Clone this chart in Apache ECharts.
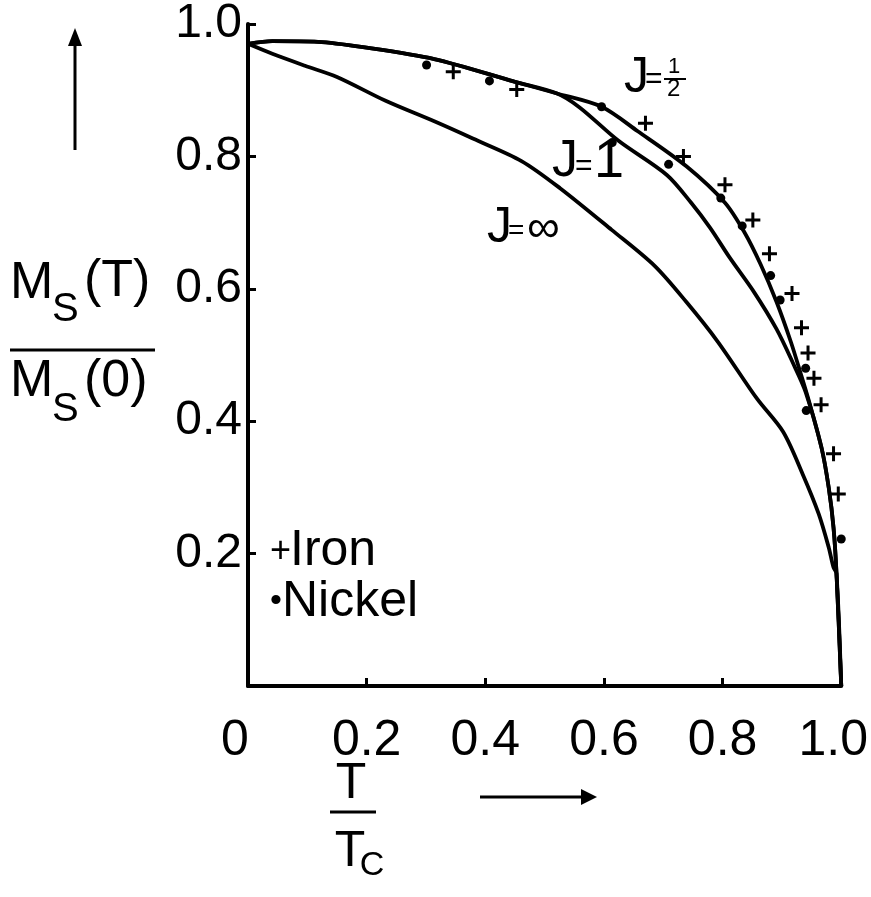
<!DOCTYPE html>
<html><head><meta charset="utf-8">
<script src="https://cdn.jsdelivr.net/npm/echarts@6/dist/echarts.min.js"></script>
<style>html,body{margin:0;padding:0;background:#fff}#c{width:871px;height:897px}</style>
</head><body><div id="c"></div><script>
// ---- data ----
const xTicks = [0, 0.2, 0.4, 0.6, 0.8, 1.0];
const xTickLabels = ['0', '0.2', '0.4', '0.6', '0.8', '1.0'];
const yTicks = [0, 0.2, 0.4, 0.6, 0.8, 1.0];
const yTickLabels = ['', '0.2', '0.4', '0.6', '0.8', '1.0'];

// J = 1/2 curve
const halfT = [0, 0.041, 0.118, 0.194, 0.314, 0.449, 0.521, 0.596, 0.657, 0.739, 0.804, 0.837, 0.864, 0.891, 0.915, 0.931, 0.946, 0.967, 0.979, 0.987, 0.992, 1.0];
const halfM = [0.970, 0.974, 0.973, 0.965, 0.947, 0.913, 0.895, 0.875, 0.838, 0.785, 0.730, 0.685, 0.637, 0.580, 0.520, 0.474, 0.429, 0.359, 0.299, 0.239, 0.170, 0.0];
// J = 1 curve
const oneT = [0, 0.041, 0.118, 0.194, 0.314, 0.449, 0.521, 0.559, 0.624, 0.706, 0.747, 0.779, 0.812, 0.853, 0.891, 0.918, 0.940, 0.967, 0.979, 0.987, 0.992, 1.0];
const oneM = [0.970, 0.974, 0.973, 0.965, 0.947, 0.913, 0.895, 0.874, 0.824, 0.772, 0.730, 0.692, 0.647, 0.595, 0.539, 0.489, 0.444, 0.359, 0.299, 0.239, 0.170, 0.0];
// J = infinity curve
const infT = [0, 0.041, 0.096, 0.150, 0.232, 0.314, 0.379, 0.461, 0.526, 0.613, 0.685, 0.739, 0.792, 0.858, 0.902, 0.935, 0.962, 0.979, 0.987, 0.992, 1.0];
const infM = [0.970, 0.955, 0.937, 0.920, 0.884, 0.853, 0.827, 0.793, 0.752, 0.689, 0.635, 0.580, 0.520, 0.434, 0.384, 0.320, 0.260, 0.209, 0.179, 0.170, 0.0];
// measured points
const nickelT = [0.301, 0.407, 0.596, 0.614, 0.709, 0.797, 0.833, 0.881, 0.897, 0.940, 0.941, 1.0];
const nickelM = [0.938, 0.914, 0.875, 0.821, 0.788, 0.737, 0.695, 0.620, 0.583, 0.480, 0.416, 0.222];
const ironT = [0.346, 0.453, 0.670, 0.734, 0.804, 0.851, 0.879, 0.917, 0.933, 0.944, 0.954, 0.966, 0.987, 0.995];
const ironM = [0.928, 0.901, 0.850, 0.800, 0.757, 0.704, 0.653, 0.593, 0.541, 0.503, 0.465, 0.425, 0.351, 0.290];

const zip = (a, b) => a.map((v, i) => [v, b[i]]);
const F = "'Liberation Sans','Arial',sans-serif";
const K = '#000';

const chart = echarts.init(document.getElementById('c'), null, {renderer: 'canvas'});
const lineSeries = (name, t, m) => ({
  name, type: 'line', data: zip(t, m), showSymbol: false, smooth: 0.3,
  lineStyle: {color: K, width: 3.8}, clip: false, z: 3
});
const txt = (text, x, y, size, extra) => ({
  type: 'text', x, y, z: 10,
  style: Object.assign({text, fontFamily: F, fontSize: size, fill: K, textAlign: 'left', textVerticalAlign: 'middle'}, extra || {})
});

chart.setOption({
  animation: false,
  backgroundColor: '#fff',
  grid: {left: 248, right: 11, top: 20, bottom: 211, containLabel: false},
  xAxis: {
    type: 'value', min: 0, max: 1, interval: 0.2,
    axisLine: {show: true, lineStyle: {color: K, width: 4}},
    axisTick: {show: true, inside: true, length: 8, lineStyle: {color: K, width: 3}},
    splitLine: {show: false},
    axisLabel: {
      margin: 30, color: K, fontFamily: F, fontSize: 50,
      formatter: v => {
        const i = xTicks.findIndex(t => Math.abs(t - v) < 1e-6);
        const s = i >= 0 ? xTickLabels[i] : '';
        if (i === 0) return '{l|' + s + '}';
        if (i === 5) return '{r|' + s + '}';
        return '{n|' + s + '}';
      },
      rich: {
        l: {fontFamily: F, fontSize: 50, color: K, padding: [0, 26, 0, 0]},
        r: {fontFamily: F, fontSize: 50, color: K, padding: [0, 16, 0, 0]},
        n: {fontFamily: F, fontSize: 50, color: K}
      }
    }
  },
  yAxis: {
    type: 'value', min: 0, max: 1, interval: 0.2,
    axisLine: {show: true, lineStyle: {color: K, width: 4}},
    axisTick: {show: true, inside: true, length: 8, lineStyle: {color: K, width: 3}},
    splitLine: {show: false},
    axisLabel: {
      margin: 6, color: K, fontFamily: F, fontSize: 48,
      formatter: v => {
        const i = yTicks.findIndex(t => Math.abs(t - v) < 1e-6);
        return i >= 0 ? yTickLabels[i] : '';
      }
    }
  },
  series: [
    lineSeries('J=1/2', halfT, halfM),
    lineSeries('J=1', oneT, oneM),
    lineSeries('J=inf', infT, infM),
    {name: 'Iron', type: 'scatter', data: zip(ironT, ironM), clip: false,
     symbol: 'path://M4,0H6V4H10V6H6V10H4V6H0V4H4Z', symbolSize: 15,
     itemStyle: {color: K, opacity: 1}, z: 4},
    {name: 'Nickel', type: 'scatter', data: zip(nickelT, nickelM), clip: false,
     symbol: 'circle', symbolSize: 9, itemStyle: {color: K, opacity: 1}, z: 4}
  ],
  graphic: [
    // y-axis title
    txt('M', 10, 284, 52),
    txt('S', 52, 310, 40),
    txt('(T)', 84, 282, 52),
    {type: 'line', shape: {x1: 10, y1: 350, x2: 155, y2: 350}, style: {stroke: K, lineWidth: 3}},
    txt('M', 10, 382, 52),
    txt('S', 52, 410, 40),
    txt('(0)', 84, 382, 52),
    // up arrow
    {type: 'line', shape: {x1: 75, y1: 150, x2: 75, y2: 42}, style: {stroke: K, lineWidth: 3}},
    {type: 'polygon', shape: {points: [[75, 28], [68, 46], [82, 46]]}, style: {fill: K}},
    // x-axis title
    txt('T', 351, 784, 50, {textAlign: 'center'}),
    {type: 'line', shape: {x1: 330, y1: 812, x2: 376, y2: 812}, style: {stroke: K, lineWidth: 3}},
    txt('T', 350, 852, 50, {textAlign: 'center'}),
    txt('C', 372, 866, 34, {textAlign: 'center'}),
    // right arrow
    {type: 'line', shape: {x1: 480, y1: 797, x2: 584, y2: 797}, style: {stroke: K, lineWidth: 3}},
    {type: 'polygon', shape: {points: [[597, 797], [581, 789], [581, 805]]}, style: {fill: K}},
    // legend
    txt('+', 270, 552, 36),
    txt('Iron', 290, 551, 50),
    txt('\u2022', 270, 602, 34),
    txt('Nickel', 282, 602, 50),
    // curve labels
    txt('J', 624, 78, 50),
    txt('=', 645, 80, 30),
    txt('1', 668, 67, 22),
    {type: 'line', shape: {x1: 664, y1: 79, x2: 686, y2: 79}, style: {stroke: K, lineWidth: 2}},
    txt('2', 667, 89, 24),
    txt('J', 552, 162, 52),
    txt('=', 575, 167, 30),
    txt('1', 594, 162, 54),
    txt('J', 487, 228, 50),
    txt('=', 508, 231, 28),
    txt('\u221E', 527, 229, 46)
  ]
});
</script></body></html>
